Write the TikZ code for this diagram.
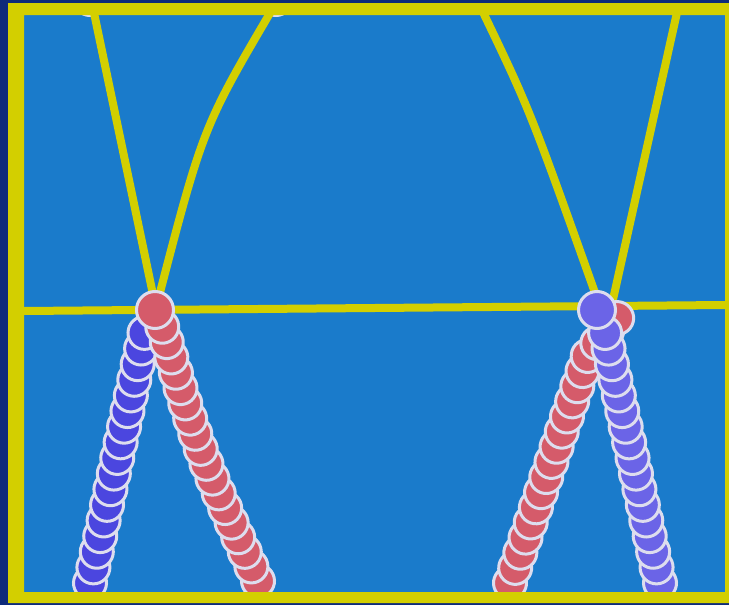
\documentclass[tikz,border=0pt]{standalone}
\definecolor{FrameNavy}{HTML}{0E2B7A}
\definecolor{FieldBlue}{HTML}{1A7BCB}
\definecolor{LineYellow}{HTML}{D3CF00}
\definecolor{BeadBlue}{HTML}{4B46DF}
\definecolor{BeadViolet}{HTML}{6B64E7}
\definecolor{BeadRed}{HTML}{D55B6A}
\definecolor{BeadRim}{HTML}{DDDDEE}
\usepackage{tikz}
\usetikzlibrary{decorations.markings}

\tikzset{
  bead/.style={draw=BeadRim, line width=3pt},
  courtline/.style={LineYellow, line width=8pt},
  chain/.style={decorate, decoration={markings,
      mark=between positions 0 and 1 step 16pt with {\draw[bead, fill=#1] (0,0) circle (16.5pt);}}}
}

\begin{document}
\begin{tikzpicture}[x=1pt, y=-1pt]
  \useasboundingbox (0,0) rectangle (729,605);
  % navy surround and blue field
  \fill[FrameNavy] (0,0) rectangle (729,605);
  \fill[FieldBlue] (24,15) rectangle (725,592);
  % beads hidden under the top edge
  \begin{scope}
    \clip (24,15) rectangle (725,592);
    \draw[bead, fill=BeadRed] (90,-0.5) circle (16pt);
    \draw[bead, fill=BeadRed] (276,-0.5) circle (16pt);
  \end{scope}
  % yellow lines
  \draw[courtline] (24,311) -- (725,305);
  \draw[courtline] (93,8) -- (155,304);
  \draw[courtline] (273,8) .. controls (203,127) .. (157,304);
  \draw[courtline] (481,8) .. controls (530,110) .. (599,304);
  \draw[courtline] (678,8) -- (612,304);
  % left pair of chains
  \path[chain=BeadBlue] (90,583) -- (146,326);
  \path[chain=BeadRed] (258,581) .. controls (199,451) .. (162,326);
  \draw[bead, fill=BeadRed] (155,310) circle (18.5pt);
  % right pair of chains
  \path[chain=BeadRed] (510,583) -- (588,355) -- (618,317);
  \path[chain=BeadViolet] (660,583) -- (604,328);
  \draw[bead, fill=BeadViolet] (597,310) circle (18.5pt);
  % yellow frame
  \fill[LineYellow, even odd rule] (8,3) rectangle (729,603) (24,15) rectangle (725,592);
\end{tikzpicture}
\end{document}
